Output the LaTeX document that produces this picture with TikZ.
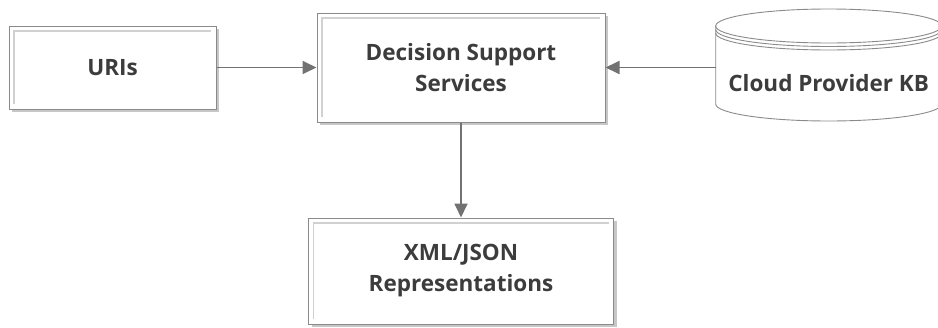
\documentclass[tikz,border=0pt]{standalone}
\usepackage{fontspec}
\setmainfont{Open Sans}
\usetikzlibrary{arrows.meta, positioning, shadows}
\definecolor{boxline}{HTML}{8A8A8A}
\definecolor{arrowgray}{HTML}{727272}
\definecolor{textgray}{HTML}{3C3C3C}
\tikzstyle{block}=[rectangle, draw=boxline, line width=1pt, fill=white, align=center, font=\fontsize{22.5}{31}\selectfont\bfseries, text=textgray,
  drop shadow={shadow xshift=3pt, shadow yshift=-3pt, fill=black!40, opacity=.55},
  path picture={\draw[black!18, line width=1.6pt] ([shift={(5pt,5pt)}]path picture bounding box.south west) |- ([shift={(-5pt,-5pt)}]path picture bounding box.north east);}]
\tikzstyle{dbtext}=[rectangle, align=center, minimum width=226pt, font=\fontsize{22.5}{31}\selectfont\bfseries, text=textgray]
\tikzstyle{dbline}=[draw=boxline, line width=0.9pt]
\tikzstyle{arrow}=[-{Triangle[length=14pt, width=13pt]}, draw=arrowgray, fill=arrowgray, line width=1.8pt]

\begin{document}
\begin{tikzpicture}[x=1pt, y=-1pt]
\useasboundingbox (0,0) rectangle (938,327);

% Core
\node[block, minimum width=288pt, minimum height=109pt] (dss) at (461,67.5) {Decision Support\\Services};

% Input
\node[block, minimum width=207pt, minimum height=83pt, left=100pt of dss] (uris) {URIs};

% Output
\node[block, minimum width=305pt, minimum height=106pt, below=95pt of dss] (xml) {XML/JSON\\Representations};

% Knowledge base
\node[dbtext, right=110pt of dss, yshift=-16pt] (cloud) {Cloud Provider KB};
\draw[dbline] ([yshift=57.5pt]cloud.center) ellipse [x radius=113pt, y radius=17pt];
\draw[dbline] ([shift={(-113pt,57.5pt)}]cloud.center) -- ([shift={(-113pt,-20.5pt)}]cloud.center)
  arc[start angle=180, end angle=360, x radius=113pt, y radius=17pt] -- ([shift={(113pt,57.5pt)}]cloud.center);
\draw[dbline] ([shift={(-113pt,54pt)}]cloud.center) arc[start angle=180, end angle=360, x radius=113pt, y radius=17pt];
\draw[dbline] ([shift={(-113pt,50.5pt)}]cloud.center) arc[start angle=180, end angle=360, x radius=113pt, y radius=17pt];

% Flow arrows
\draw[arrow] (uris) -- (dss);
\draw[arrow] (cloud.west |- dss.east) -- (dss.east);
\draw[arrow] (dss) -- (xml);

\end{tikzpicture}
\end{document}
